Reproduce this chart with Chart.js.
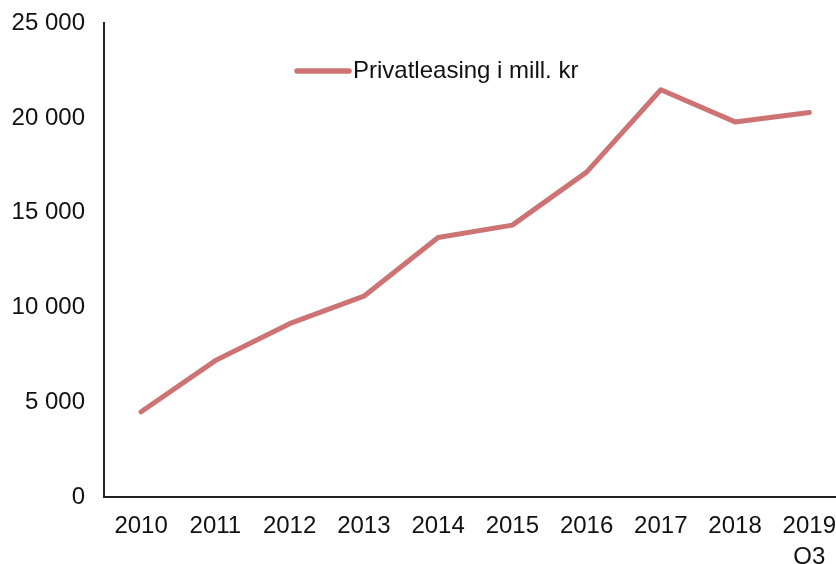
<!DOCTYPE html>
<html>
<head>
<meta charset="utf-8">
<script src="https://cdn.jsdelivr.net/npm/chart.js@4"></script>
<style>
  html, body { margin: 0; padding: 0; background: #fff; overflow: hidden; }
  #wrap { width: 836px; height: 564px; overflow: hidden; position: relative; }
  canvas { display: block; position: absolute; left: 0; top: -10px; }
</style>
</head>
<body>
<div id="wrap"><canvas id="myChart" width="850" height="574" style="width:850px;height:574px"></canvas></div>
<script>
  const aar = ['2010', '2011', '2012', '2013', '2014', '2015', '2016', '2017', '2018', ['2019', 'Q3']];
  const privatleasing = [4500, 7200, 9150, 10600, 13700, 14350, 17150, 21500, 19800, 20300];
  const serieNavn = 'Privatleasing i mill. kr';
  const yTicks = [0, 5000, 10000, 15000, 20000, 25000];

  const farge = '#cd7373';
  const font = { family: '"Liberation Sans", Arial, sans-serif', size: 24 };

  function medMellomrom(v) {
    return String(v).replace(/\B(?=(\d{3})+(?!\d))/g, ' ');
  }

  // legende inne i plottet (canvas er flyttet 10px opp)
  const legendeInne = {
    id: 'legendeInne',
    afterDraw(chart) {
      const c = chart.ctx;
      const ds = chart.data.datasets[0];
      c.save();
      c.strokeStyle = ds.borderColor;
      c.lineWidth = 5.5;
      c.lineCap = 'round';
      c.beginPath();
      c.moveTo(297, 81);
      c.lineTo(349, 81);
      c.stroke();
      c.fillStyle = '#111';
      c.font = `${font.size}px ${font.family}`;
      c.textBaseline = 'middle';
      c.textAlign = 'left';
      c.fillText(ds.label, 353, 81);
      c.restore();
    }
  };

  const ctx = document.getElementById('myChart').getContext('2d');
  new Chart(ctx, {
    type: 'line',
    data: {
      labels: aar,
      datasets: [{
        label: serieNavn,
        data: privatleasing,
        borderColor: farge,
        backgroundColor: farge,
        borderWidth: 5,
        borderCapStyle: 'round',
        borderJoinStyle: 'round',
        pointRadius: 0,
        tension: 0
      }]
    },
    options: {
      responsive: false,
      animation: false,
      layout: { padding: { top: 13, right: 0, bottom: 0, left: 0 } },
      plugins: { legend: { display: false }, tooltip: { enabled: false } },
      scales: {
        x: {
          offset: true,
          grid: { display: false, drawTicks: false },
          border: { display: true, color: '#222', width: 2 },
          ticks: { color: '#111', font: { ...font, lineHeight: 1.3 }, padding: 14, maxRotation: 0, autoSkip: false },
          afterFit(s) { s.height = 67; }
        },
        y: {
          min: 0,
          max: 25000,
          grid: { display: false, drawTicks: false },
          border: { display: true, color: '#222', width: 2 },
          afterBuildTicks(s) { s.ticks = yTicks.map(v => ({ value: v })); },
          ticks: { color: '#111', font: font, padding: 19, callback: medMellomrom },
          afterFit(s) { s.width = 104; }
        }
      }
    },
    plugins: [legendeInne]
  });
</script>
</body>
</html>
